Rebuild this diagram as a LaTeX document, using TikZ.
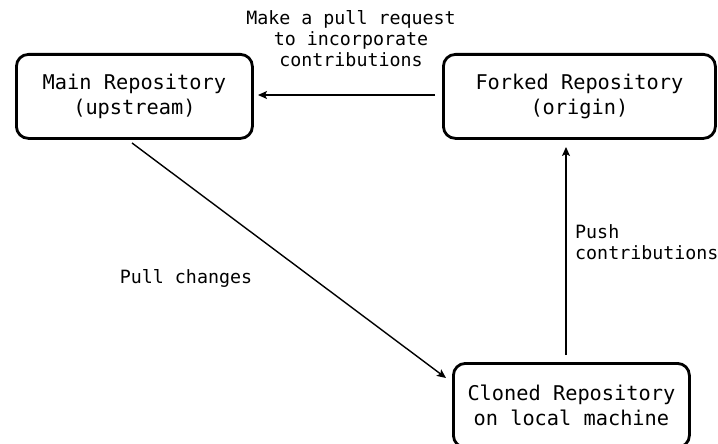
\documentclass[tikz,border=0pt]{standalone}
\usepackage{fontspec}
\setmonofont{DejaVu Sans Mono}
\usetikzlibrary{arrows.meta}
\begin{document}
\begin{tikzpicture}[x=1pt,y=-1pt,
  repo/.style={draw=black, line width=2.8pt, rounded corners=12pt, align=center,
    font=\ttfamily\fontsize{20.3}{25}\selectfont, inner sep=0pt, anchor=north west},
  flow/.style={line width=1.4pt, -{Stealth[length=9pt,width=8pt,inset=2pt]}},
  note/.style={align=center, font=\ttfamily\fontsize{18.3}{21}\selectfont, inner sep=0pt}]
  \useasboundingbox (0,0) rectangle (718,444);
  % repository boxes
  \node[repo, minimum width=236pt, minimum height=84pt] (main) at (15,53) {Main Repository\\(upstream)};
  \node[repo, minimum width=272pt, minimum height=84pt] (fork) at (442,53) {Forked Repository\\(origin)};
  \node[repo, minimum width=236pt, minimum height=84pt] (clone) at (452,362) {Cloned Repository\\on local machine};
  % anchor points for the connectors
  \coordinate (mainR) at (258,95);
  \coordinate (forkL) at (435,95);
  \coordinate (mainB) at (132,143);
  \coordinate (cloneL) at (446,378);
  \coordinate (cloneT) at (566,355);
  \coordinate (forkB) at (566,147);
  % connectors
  \draw[flow] (forkL) -- (mainR);
  \draw[flow] (mainB) -- (cloneL);
  \draw[flow] (cloneT) -- (forkB);
  % labels
  \node[note] (prlabel) at (351,39) {Make a pull request\\to incorporate\\contributions};
  \node[note] (pulllabel) at (186,278) {Pull changes};
  \node[note, align=left, anchor=west] (pushlabel) at (575,242) {Push\\contributions};
\end{tikzpicture}
\end{document}
